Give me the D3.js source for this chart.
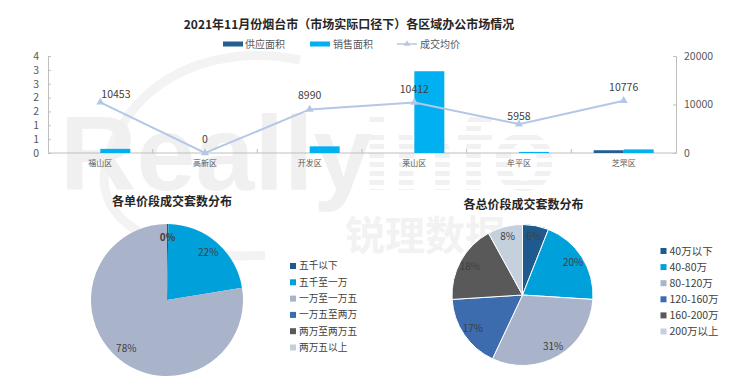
<!DOCTYPE html>
<html>
<head>
<meta charset="utf-8">
<script src="https://cdn.jsdelivr.net/npm/d3@7"></script>
<style>
  html, body { margin: 0; padding: 0; background: #fff; }
  svg { display: block; }
  text { font-family: "Noto Sans CJK SC", "Noto Sans", sans-serif; }
</style>
</head>
<body>
<svg id="chart" width="740" height="384"></svg>
<script>
// ---------- data ----------
const chartTitle = "2021年11月份烟台市（市场实际口径下）各区域办公市场情况";
const categories = ["福山区", "高新区", "开发区", "莱山区", "牟平区", "芝罘区"];
const supplyArea = [0, 0, 0, 0, 0, 0.1];
const salesArea = [0.15, 0, 0.24, 2.95, 0.04, 0.13];
const avgPrice = [10453, 0, 8990, 10412, 5958, 10776];
const seriesNames = ["供应面积", "销售面积", "成交均价"];
const leftTicks = [0, 0.5, 1, 1.5, 2, 2.5, 3, 3.5];
const rightTicks = [0, 10000, 20000];

const pie1Title = "各单价段成交套数分布";
const pie1Labels = ["五千以下", "五千至一万", "一万至一万五", "一万五至两万", "两万至两万五", "两万五以上"];
const pie1Values = [0.3, 22.1, 77.6, 0, 0, 0];

const pie2Title = "各总价段成交套数分布";
const pie2Labels = ["40万以下", "40-80万", "80-120万", "120-160万", "160-200万", "200万以上"];
const pie2Values = [6, 20, 31, 17, 18, 8];

// ---------- styles ----------
const cSupply = "#255E91", cSales = "#00B0F0", cLine = "#B4C7E7";
const pieColors = ["#1F5A8E", "#00A0DA", "#A9B3CA", "#3C6BAE", "#595959", "#C5D0DD"];
const textDark = "#404040", axisText = "#595959", axisLine = "#BFBFBF";

const svg = d3.select("#chart");

// ---------- watermark ----------
const defs = svg.append("defs");
const pat = defs.append("pattern").attr("id", "stripes").attr("patternUnits", "userSpaceOnUse")
  .attr("width", 8).attr("height", 9);
pat.append("rect").attr("width", 8).attr("height", 5).attr("fill", "#f1f1f1");
const wm = svg.append("g").attr("class", "watermark");
wm.append("path").attr("d", "M300,60 C200,40 120,90 105,170 C95,230 180,262 265,255")
  .attr("fill", "none").attr("stroke", "#f3f3f3").attr("stroke-width", 9);
wm.append("text").attr("x", 60).attr("y", 190).attr("font-size", 106).attr("font-weight", "bold")
  .attr("fill", "#f0f0f0").style("font-family", "'Liberation Sans', Arial, sans-serif").text("Really");
wm.append("text").attr("x", 362).attr("y", 190).attr("font-size", 106).attr("font-weight", "bold")
  .attr("fill", "url(#stripes)").style("font-family", "'Liberation Sans', Arial, sans-serif").text("info");
wm.append("text").attr("x", 345).attr("y", 250).attr("font-size", 40).attr("font-weight", "bold")
  .attr("fill", "#f2f2f2").text("锐理数据");

// ---------- title & legend ----------
svg.append("text").attr("x", 349).attr("y", 29).attr("text-anchor", "middle")
  .attr("font-size", 12).attr("font-weight", "bold").attr("fill", "#262626").text(chartTitle);

const lg = svg.append("g").attr("font-size", 10).attr("fill", axisText);
lg.append("rect").attr("x", 223).attr("y", 41.5).attr("width", 20).attr("height", 5).attr("fill", cSupply);
lg.append("text").attr("x", 245).attr("y", 48).text(seriesNames[0]);
lg.append("rect").attr("x", 310).attr("y", 41.5).attr("width", 20).attr("height", 5).attr("fill", cSales);
lg.append("text").attr("x", 333).attr("y", 48).text(seriesNames[1]);
lg.append("line").attr("x1", 397).attr("x2", 417).attr("y1", 44).attr("y2", 44).attr("stroke", cLine).attr("stroke-width", 1.5);
lg.append("path").attr("d", d3.symbol(d3.symbolTriangle, 18)()).attr("transform", "translate(407,44)").attr("fill", cLine);
lg.append("text").attr("x", 420).attr("y", 48).text(seriesNames[2]);

// ---------- combo chart ----------
const plotL = 48, plotR = 676, plotT = 56, plotB = 153;
const x0 = d3.scaleBand().domain(categories).range([plotL, plotR]).padding(0);
const x1 = d3.scaleBand().domain(["supply", "sales"]).range([0, x0.bandwidth()]).paddingInner(0).paddingOuter(0.745);
const yL = d3.scaleLinear().domain([0, 3.5]).range([plotB, plotT]);
const yR = d3.scaleLinear().domain([0, 20000]).range([plotB, plotT]);

// axes
const leftAxis = d3.axisLeft(yL).tickValues(leftTicks).tickSize(-3).tickPadding(8).tickFormat(d => Math.round(d));
const gL = svg.append("g").attr("transform", `translate(${plotL},0)`).call(leftAxis);
const rightAxis = d3.axisRight(yR).tickValues(rightTicks).tickSize(-3).tickPadding(8).tickFormat(d => d);
const gR = svg.append("g").attr("transform", `translate(${plotR},0)`).call(rightAxis);
[gL, gR].forEach(g => {
  g.select(".domain").attr("stroke", axisLine);
  g.selectAll(".tick line").attr("stroke", axisLine);
  g.selectAll(".tick text").attr("fill", axisText).attr("font-size", 10.5)
    .style("font-family", "'Noto Sans CJK SC', sans-serif");
});
gL.selectAll(".tick text").attr("x", -9);

// x axis (ticks at category boundaries)
const gX = svg.append("g");
gX.append("line").attr("x1", plotL).attr("x2", plotR).attr("y1", plotB).attr("y2", plotB).attr("stroke", axisLine);
gX.selectAll(".bt").data(categories.slice(1)).join("line")
  .attr("x1", d => x0(d)).attr("x2", d => x0(d)).attr("y1", plotB).attr("y2", plotB - 4).attr("stroke", axisLine);
gX.selectAll(".cl").data(categories).join("text")
  .attr("x", d => x0(d) + x0.bandwidth() / 2).attr("y", plotB + 12.5).attr("text-anchor", "middle")
  .attr("font-size", 8).attr("fill", axisText).text(d => d);

// bars
const barData = categories.map((c, i) => ({ c, supply: supplyArea[i], sales: salesArea[i] }));
const bg = svg.append("g").selectAll("g").data(barData).join("g")
  .attr("transform", d => `translate(${x0(d.c)},0)`);
bg.selectAll("rect").data(d => [{ k: "supply", v: d.supply }, { k: "sales", v: d.sales }]).join("rect")
  .attr("x", d => x1(d.k)).attr("width", x1.bandwidth())
  .attr("y", d => yL(d.v)).attr("height", d => plotB - yL(d.v))
  .attr("fill", d => d.k === "supply" ? cSupply : cSales);

// line
const cx = c => x0(c) + x0.bandwidth() / 2;
const lineGen = d3.line().x((d, i) => cx(categories[i])).y(d => yR(d));
svg.append("path").datum(avgPrice).attr("d", lineGen).attr("fill", "none")
  .attr("stroke", cLine).attr("stroke-width", 2);
svg.append("g").selectAll("path").data(avgPrice).join("path")
  .attr("d", d3.symbol(d3.symbolTriangle, 28)())
  .attr("transform", (d, i) => `translate(${cx(categories[i])},${yR(d)})`)
  .attr("fill", cLine);
svg.append("g").selectAll("text").data(avgPrice).join("text")
  .attr("x", (d, i) => cx(categories[i]) + (i === 0 ? 1 : 0))
  .attr("y", (d, i) => yR(d) - (i === 0 || i === 4 ? 4 : 10))
  .attr("text-anchor", (d, i) => i === 0 ? "start" : "middle")
  .attr("font-size", 10.5).attr("fill", textDark).text(d => d);

// ---------- pies ----------
function drawPie(opts) {
  const { cx, cy, r, values, labels, title, titleX, titleY, legendX, legendY, legendStep, legendFont, stroke, labelR } = opts;
  svg.append("text").attr("x", titleX).attr("y", titleY).attr("text-anchor", "middle")
    .attr("font-size", 12).attr("font-weight", "bold").attr("fill", "#262626").text(title);
  const total = d3.sum(values);
  const arcs = d3.pie().sort(null).value(d => d)(values);
  const arc = d3.arc().innerRadius(0).outerRadius(r);
  const g = svg.append("g").attr("transform", `translate(${cx},${cy})`);
  g.selectAll("path").data(arcs).join("path").attr("d", arc)
    .attr("fill", (d, i) => pieColors[i])
    .attr("stroke", stroke ? "#fff" : "none").attr("stroke-width", stroke ? 1 : 0);
  const la = d3.arc().innerRadius(labelR).outerRadius(labelR);
  g.selectAll("text").data(arcs.filter(d => d.value > 0)).join("text")
    .attr("transform", d => `translate(${la.centroid(d)})`)
    .attr("text-anchor", "middle").attr("dy", "0.35em")
    .attr("font-size", 10).attr("fill", textDark)
    .attr("font-weight", d => d.value / total < 0.005 ? "bold" : "normal")
    .text(d => Math.round(d.value / total * 100) + "%");
  const lgp = svg.append("g");
  const rows = lgp.selectAll("g").data(labels).join("g")
    .attr("transform", (d, i) => `translate(${legendX},${legendY + i * legendStep})`);
  rows.append("rect").attr("x", 0).attr("y", -3).attr("width", 6).attr("height", 6)
    .attr("fill", (d, i) => pieColors[i]);
  rows.append("text").attr("x", 9).attr("y", 0).attr("dy", "0.35em")
    .attr("font-size", legendFont).attr("fill", textDark).text(d => d);
}

drawPie({ cx: 167, cy: 300, r: 76, values: pie1Values, labels: pie1Labels, title: pie1Title,
  titleX: 172, titleY: 206, legendX: 290, legendY: 266, legendStep: 16.3, legendFont: 9.7, stroke: false, labelR: 63 });
drawPie({ cx: 522.5, cy: 295, r: 70.5, values: pie2Values, labels: pie2Labels, title: pie2Title,
  titleX: 523.5, titleY: 209, legendX: 660.5, legendY: 251, legendStep: 16.1, legendFont: 10.5, stroke: true, labelR: 60 });
</script>
</body>
</html>
